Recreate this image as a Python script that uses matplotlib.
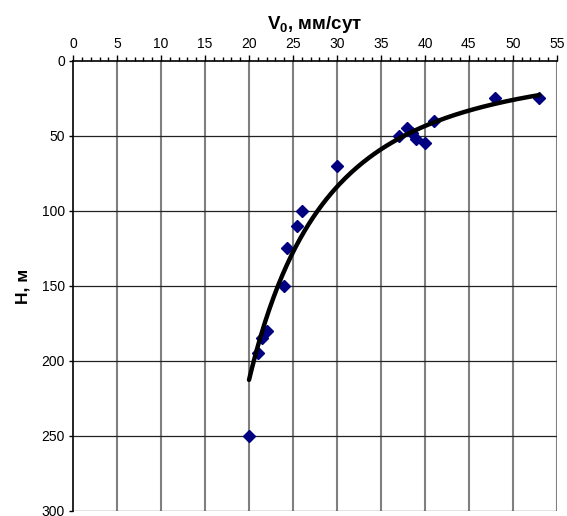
import numpy as np
import matplotlib
matplotlib.use('Agg')
import matplotlib.pyplot as plt
from matplotlib.ticker import MultipleLocator

plt.rcParams['font.family'] = ['Liberation Sans', 'DejaVu Sans']
plt.rcParams['mathtext.fontset'] = 'custom'
plt.rcParams['mathtext.rm'] = 'Liberation Sans'
plt.rcParams['mathtext.bf'] = 'Liberation Sans:bold'

# скорость V0 (мм/сут) и глубина H (м)
V = [20, 21, 21.5, 22, 24, 24.3, 25.5, 26, 30, 37, 38, 38.5, 39, 40, 41, 48, 53]
H = [250, 195, 185, 180, 150, 125, 110, 100, 70, 50, 45, 48, 52, 55, 40, 25, 25]

xticks = list(range(0, 56, 5))
yticks = list(range(0, 301, 50))

# степенной тренд как в Excel: ln H = b ln V + ln a
b, lna = np.polyfit(np.log(V), np.log(H), 1)
vt = np.linspace(20, 53, 200)
ht = np.exp(lna) * vt ** b

fig = plt.figure(figsize=(5.67, 5.16), dpi=100)
ax = fig.add_axes([0.129, 0.0097, 0.853, 0.8723])

for x in xticks[1:]:
    ax.axvline(x, color='#7f7f7f', lw=1.5, zorder=1)
for y in yticks[1:]:
    ax.axhline(y, color='#222222', lw=0.9, zorder=1)

ax.plot(V, H, 'D', color='#000080', ms=6.3, mec='#000080', zorder=3)
ax.plot(vt, ht, color='black', lw=3.2, solid_capstyle='round', zorder=4)

ax.set_xlim(0, 55)
ax.set_ylim(300, 0)
ax.xaxis.tick_top()
ax.xaxis.set_label_position('top')
ax.set_xticks(xticks)
ax.set_yticks(yticks)
ax.xaxis.set_minor_locator(MultipleLocator(1))
ax.tick_params(axis='x', which='major', length=4, width=1, pad=3, labelsize=10)
ax.tick_params(axis='x', which='minor', length=3, width=1)
ax.tick_params(axis='y', which='major', length=3, width=1, pad=3, labelsize=10)

for s in ['right', 'bottom']:
    ax.spines[s].set_visible(False)
ax.spines['left'].set_linewidth(1.2)
ax.spines['top'].set_linewidth(1.2)

ax.set_xlabel(r'V$_\mathbf{0}$, мм/сут', fontsize=13.5, fontweight='bold', labelpad=6)
ax.set_ylabel('H, м', fontsize=12.5, fontweight='bold', labelpad=8)

fig.savefig('out.png', dpi=100)
